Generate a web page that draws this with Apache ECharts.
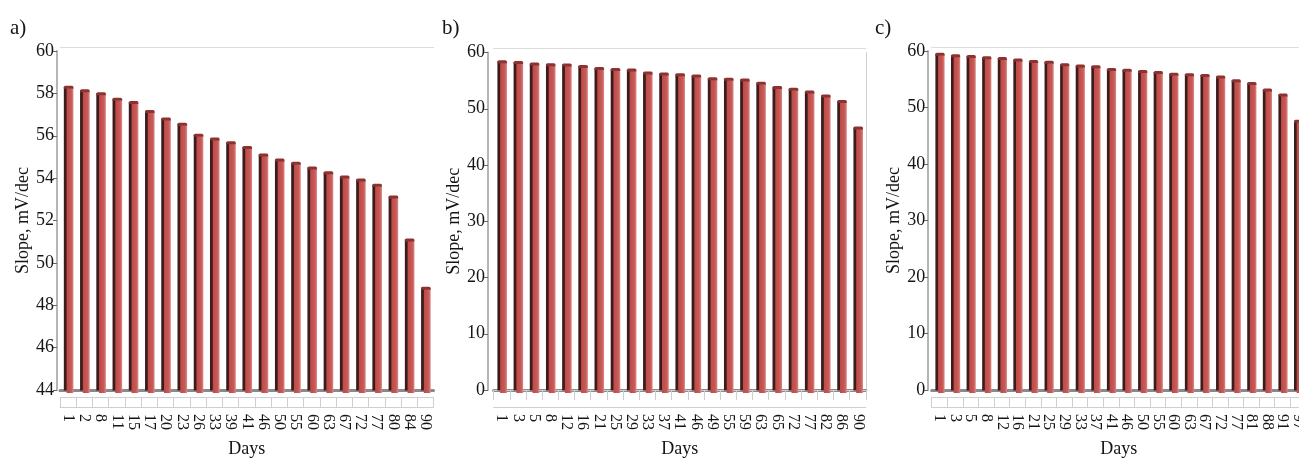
<!DOCTYPE html>
<html>
<head>
<meta charset="utf-8">
<script src="https://cdn.jsdelivr.net/npm/echarts@6/dist/echarts.min.js"></script>
<style>
html,body{margin:0;padding:0;background:#fff;overflow:hidden;width:1299px;height:463px;}
#chart{width:1320px;height:463px;}
</style>
</head>
<body>
<div id="chart"></div>
<script>
// ---------- data ----------
const daysA = ['1','2','8','11','15','17','20','23','26','33','39','41','46','50','55','60','63','67','72','77','80','84','90'];
const slopeA = [58.24,58.08,57.93,57.68,57.52,57.10,56.74,56.49,55.98,55.80,55.62,55.40,55.04,54.81,54.65,54.43,54.21,54.01,53.87,53.62,53.06,51.03,48.76];

const daysB = ['1','3','5','8','12','16','21','25','29','33','37','41','46','49','55','59','63','65','72','77','82','86','90'];
const slopeB = [58.17,58.05,57.76,57.64,57.58,57.34,56.99,56.82,56.70,56.17,55.99,55.87,55.64,55.17,55.05,54.93,54.35,53.58,53.29,52.82,52.11,51.11,46.40];

const daysC = ['1','3','5','8','12','16','21','25','29','33','37','41','46','50','55','60','63','67','72','77','81','88','91','97'];
const slopeC = [59.24,59.00,58.83,58.65,58.48,58.25,57.95,57.84,57.37,57.19,57.02,56.55,56.43,56.20,56.02,55.73,55.61,55.50,55.20,54.56,54.09,52.92,52.05,47.37];

const panelLabels = ['a)','b)','c)'];
const yRangeA = {min:44, max:60, interval:2};
const yRangeBC = {min:0, max:60, interval:10};
const yName = 'Slope, mV/dec';
const xName = 'Days';

// ---------- layout (separate from data) ----------
const layout = [
  {days:daysA, vals:slopeA, range:yRangeA,  left:60,    top:51,   width:373.5, height:342, yOff:3,   titleX:5,   rightBorder:false},
  {days:daysB, vals:slopeB, range:yRangeBC, left:493.6, top:52.5, width:372.2, height:341, yOff:5.5, titleX:437, rightBorder:true},
  {days:daysC, vals:slopeC, range:yRangeBC, left:931.7, top:51,   width:374.2, height:342, yOff:3.5, titleX:870, rightBorder:false}
];

const FONT = 'Liberation Serif';
const TXT = '#151515';

function make3D(yMin){
  const frontGrad = new echarts.graphic.LinearGradient(0,0,1,0,[
    {offset:0, color:'#bd4a47'},
    {offset:0.7, color:'#c85a57'},
    {offset:1, color:'#dc8a87'}
  ]);
  return function(params, api){
    const c = api.coord([api.value(0), api.value(1)]);
    const b = api.coord([api.value(0), yMin]);
    const band = api.size([1,0])[0];
    const fw = band*0.42, sw = band*0.17;
    const fx = c[0] - fw/2 + sw/2 + 0.5;
    const sx = fx - sw;
    const top = c[1], bot = b[1] + 3;
    return {type:'group', children:[
      {type:'rect', shape:{x:sx, y:top-1.5, width:sw+1, height:bot-top-1}, style:{fill:'#3a1c1c'}},
      {type:'rect', shape:{x:fx, y:top, width:fw, height:bot-top}, style:{fill:frontGrad}},
      {type:'rect', shape:{x:sx, y:top-2.5, width:sw+fw, height:3, r:[1.5,1.5,0,0]}, style:{fill:'#8c3331'}}
    ]};
  };
}

const grids = [], xAxes = [], yAxes = [], series = [], titles = [];
layout.forEach((p, g) => {
  grids.push({left:p.left, top:p.top, width:p.width, height:p.height, containLabel:false});
  titles.push({text:panelLabels[g], left:p.titleX, top:13,
    textStyle:{fontFamily:FONT, fontSize:21, fontWeight:'normal', color:TXT}});
  const xMain = xAxes.length;
  xAxes.push({gridIndex:g, type:'category', data:p.days, position:'bottom', offset:0,
    axisLine:{show:true, lineStyle:{color:'#8a8a8a', width:3}},
    axisTick:{show:false}, axisLabel:{show:false}, splitLine:{show:false}});
  xAxes.push({gridIndex:g, type:'category', data:p.days, position:'bottom', offset:7,
    axisLine:{show:true, lineStyle:{color:'#cfcfcf', width:1}},
    axisTick:{show:true, length:10, interval:0, lineStyle:{color:'#cfcfcf'}},
    axisLabel:{show:false}, splitLine:{show:false}});
  xAxes.push({gridIndex:g, type:'category', data:p.days, position:'bottom', offset:17,
    axisLine:{show:true, lineStyle:{color:'#cfcfcf', width:1}},
    axisTick:{show:false},
    axisLabel:{show:true, interval:0, rotate:-90, margin:7, fontFamily:FONT, fontSize:16, color:TXT},
    name:xName, nameLocation:'middle', nameGap:33,
    nameTextStyle:{fontFamily:FONT, fontSize:18, color:TXT},
    splitLine:{show:false}});
  xAxes.push({gridIndex:g, type:'category', data:p.days, position:'top', offset:4,
    axisLine:{show:true, lineStyle:{color:'#dcdcdc', width:1}},
    axisTick:{show:false}, axisLabel:{show:false}, splitLine:{show:false}});
  const yMain = yAxes.length;
  yAxes.push({gridIndex:g, type:'value', position:'left', offset:p.yOff,
    min:p.range.min, max:p.range.max, interval:p.range.interval,
    axisLine:{show:true, lineStyle:{color:'#b5b5b5', width:2}},
    axisTick:{show:true, length:4, lineStyle:{color:'#666'}},
    axisLabel:{margin:3, fontFamily:FONT, fontSize:18, color:TXT},
    splitLine:{show:false},
    name:yName, nameLocation:'middle', nameGap:25,
    nameTextStyle:{fontFamily:FONT, fontSize:18, color:TXT}});
  if (p.rightBorder) {
    yAxes.push({gridIndex:g, type:'value', position:'right', min:0, max:1,
      axisLine:{show:true, lineStyle:{color:'#d0d0d0', width:1}},
      axisTick:{show:false}, axisLabel:{show:false}, splitLine:{show:false}});
  }
  series.push({type:'custom', xAxisIndex:xMain, yAxisIndex:yMain,
    renderItem:make3D(p.range.min), encode:{x:0, y:1}, clip:false,
    data:p.vals.map((v,i)=>[i,v])});
});

const chart = echarts.init(document.getElementById('chart'), null, {renderer:'canvas'});
chart.setOption({
  animation:false,
  backgroundColor:'#ffffff',
  textStyle:{fontFamily:FONT},
  title:titles, grid:grids, xAxis:xAxes, yAxis:yAxes, series:series
});
</script>
</body>
</html>
